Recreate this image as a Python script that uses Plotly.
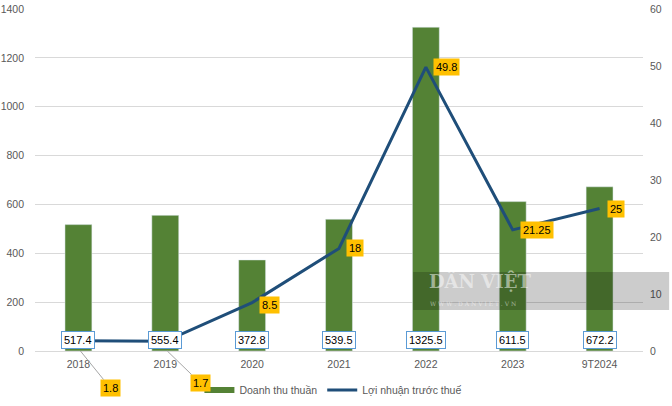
import plotly.graph_objects as go

categories = ["2018", "2019", "2020", "2021", "2022", "2023", "9T2024"]
revenue = [517.4, 555.4, 372.8, 539.5, 1325.5, 611.5, 672.2]
profit = [1.8, 1.7, 8.5, 18, 49.8, 21.25, 25]
profit_labels = ["1.8", "1.7", "8.5", "18", "49.8", "21.25", "25"]
revenue_labels = ["517.4", "555.4", "372.8", "539.5", "1325.5", "611.5", "672.2"]

FONT = "Liberation Sans"
GRID = "#D9D9D9"
TICK = "#595959"
GREEN = "#548235"
BLUE = "#1F4E79"

fig = go.Figure()
fig.add_trace(go.Bar(x=categories, y=revenue, name="Doanh thu thuần",
                     marker_color=GREEN, width=0.31, yaxis="y", showlegend=False))
# legend proxy with a flat swatch like the reference
fig.add_trace(go.Scatter(x=[None], y=[None], name="Doanh thu thuần", mode="lines",
                         line=dict(color=GREEN, width=6), yaxis="y"))
fig.add_trace(go.Scatter(x=categories, y=profit, name="Lợi nhuận trước thuế",
                         mode="lines", line=dict(color=BLUE, width=3),
                         yaxis="y2"))

ann = []
for i, t in enumerate(revenue_labels):
    ann.append(dict(x=i, y=0, xref="x", yref="y", text=t, showarrow=False,
                    yanchor="bottom", yshift=2, bgcolor="white",
                    bordercolor="#5B9BD5", borderwidth=1, borderpad=2,
                    font=dict(family=FONT, size=11, color="black")))

offsets = {
    0: dict(leader=(30, 37)),
    1: dict(leader=(33, 32)),
    2: dict(xs=7, ys=-2),
    3: dict(xs=7, ys=0),
    4: dict(xs=7, ys=0),
    5: dict(xs=7, ys=0),
    6: dict(xs=7, ys=0),
}
for i, (v, t) in enumerate(zip(profit, profit_labels)):
    o = offsets[i]
    base = dict(text=t, bgcolor="#FFC000", borderpad=2,
                font=dict(family=FONT, size=11, color="black"))
    if "leader" in o:
        ax, ay = o["leader"]
        ann.append(dict(x=i, y=0, xref="x", yref="y", showarrow=True,
                        arrowhead=0, arrowwidth=1, arrowcolor="#A6A6A6",
                        ax=ax, ay=ay, xshift=2, **base))
    else:
        ann.append(dict(x=i, y=v, xref="x", yref="y2", showarrow=False,
                        xanchor="left", yanchor="middle",
                        xshift=o["xs"], yshift=o["ys"], **base))

# watermark
ann.append(dict(x=0.645, y=0.205, xref="paper", yref="paper", text="<b>DÂN VIỆT</b>",
                showarrow=False, xanchor="left", yanchor="middle",
                font=dict(family="DejaVu Serif", size=18, color="rgba(255,255,255,0.5)")))
ann.append(dict(x=0.647, y=0.14, xref="paper", yref="paper",
                text="W W W . D A N V I E T . V N", showarrow=False,
                xanchor="left", yanchor="middle",
                font=dict(family="DejaVu Serif", size=6, color="rgba(255,255,255,0.5)")))

fig.update_layout(
    width=672, height=406,
    margin=dict(l=35, r=29, t=9, b=55, autoexpand=False),
    plot_bgcolor="white", paper_bgcolor="white",
    font=dict(family=FONT, size=10.5, color=TICK),
    xaxis=dict(type="category", range=[-0.5, 6.5], showgrid=False, showline=False,
               tickfont=dict(family=FONT, size=10.5, color=TICK), ticks="",
               ticklabelstandoff=5, automargin=False),
    yaxis=dict(range=[0, 1400], dtick=200, showgrid=True, gridcolor=GRID,
               gridwidth=1, zeroline=True, zerolinecolor=GRID, zerolinewidth=1,
               tickfont=dict(family=FONT, size=10.5, color=TICK), ticks="",
               ticklabelstandoff=10, automargin=False),
    yaxis2=dict(range=[0, 60], dtick=10, overlaying="y", side="right",
                showgrid=False, zeroline=False, showline=False, ticks="",
                tickfont=dict(family=FONT, size=10.5, color=TICK),
                ticklabelstandoff=6, automargin=False),
    legend=dict(orientation="h", x=0.49, xanchor="center", y=-0.114,
                yanchor="middle", font=dict(family=FONT, size=10.5, color=TICK),
                itemwidth=30),
    showlegend=True,
    annotations=ann,
    shapes=[dict(type="rect", xref="paper", yref="paper", x0=0.622, x1=1.043,
                 y0=0.12, y1=0.231, fillcolor="rgba(0,0,0,0.2)", line_width=0,
                 layer="above")],
)

fig.write_html("out.html", config={"displayModeBar": False},
               post_script="document.body.style.margin='0';document.body.style.overflow='hidden';")
